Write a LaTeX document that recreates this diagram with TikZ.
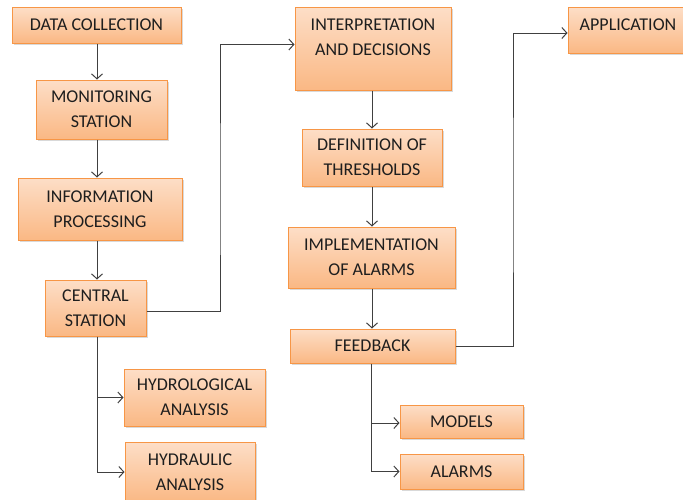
\documentclass[tikz,border=0pt]{standalone}
\usepackage{fontspec}
\setmainfont{Carlito}
\usetikzlibrary{arrows.meta,shadows}
\definecolor{boxtop}{RGB}{253,222,199}
\definecolor{boxbot}{RGB}{250,184,132}
\definecolor{boxline}{RGB}{247,150,70}
\definecolor{txtcol}{RGB}{30,30,30}
\definecolor{linecol}{RGB}{64,64,64}
\tikzset{
  box/.style={draw=boxline, line width=1pt, top color=boxtop, bottom color=boxbot,
    drop shadow={shadow xshift=1.5pt, shadow yshift=-2pt, opacity=0.3},
    align=center, font=\fontsize{18}{25}\selectfont, text=txtcol, inner sep=0pt},
  conn/.style={draw=linecol, line width=1pt, -{Straight Barb[length=5pt,width=11pt,line width=1pt]}},
  boxtext/.style={align=center, font=\fontsize{18}{25}\selectfont, text=txtcol, inner sep=0pt}
}
\begin{document}
\begin{tikzpicture}[x=1pt,y=-1pt]
\useasboundingbox (0,0) rectangle (683,499);
% left column
\node[box, minimum width=169, minimum height=36] (dc) at (96.5,25) {DATA COLLECTION};
\node[box, minimum width=131, minimum height=59] (ms) at (101.5,109.5) {MONITORING\\STATION};
\node[box, minimum width=164, minimum height=62] (ip) at (100,209) {INFORMATION\\PROCESSING};
\node[box, minimum width=101, minimum height=56] (cs) at (95.5,308) {CENTRAL\\STATION};
\node[box, minimum width=141, minimum height=57] (hydrol) at (194.5,397.5) {HYDROLOGICAL\\ANALYSIS};
\node[box, minimum width=130, minimum height=60] (hydraul) at (190,472) {HYDRAULIC\\ANALYSIS};
% middle column
\node[box, minimum width=156, minimum height=83,
  label={[boxtext, yshift=11pt]center:INTERPRETATION\\AND DECISIONS}] (interp) at (373,48.5) {};
\node[box, minimum width=140, minimum height=57] (def) at (372,157.5) {DEFINITION OF\\THRESHOLDS};
\node[box, minimum width=167, minimum height=61] (impl) at (371.5,257.5) {IMPLEMENTATION\\OF ALARMS};
\node[box, minimum width=165, minimum height=34] (feed) at (372.5,346) {FEEDBACK};
\node[box, minimum width=123, minimum height=33] (models) at (461.5,421.5) {MODELS};
\node[box, minimum width=123, minimum height=35] (alarms) at (461.5,471.5) {ALARMS};
% right
\node[box, minimum width=120, minimum height=46,
  label={[boxtext, yshift=5pt]center:APPLICATION}] (app) at (628,30) {};
% connectors
\draw[conn] (dc.south -| 97,0) -- (ms.north -| 97,0);
\draw[conn] (ms.south -| 97,0) -- (ip.north -| 97,0);
\draw[conn] (ip.south -| 97,0) -- (cs.north -| 97,0);
\draw[conn] ([yshift=-3pt]cs.east) -| (220,200) |- ([yshift=4pt]interp.west);
\draw[conn] (cs.south -| 97,0) |- (hydrol.west);
\draw[conn] (cs.south -| 97,0) |- (hydraul.west);
\draw[conn] (interp.south -| 372,0) -- (def.north -| 372,0);
\draw[conn] (def.south -| 372,0) -- (impl.north -| 372,0);
\draw[conn] (impl.south -| 372,0) -- (feed.north -| 372,0);
\draw[conn] (feed.east) -| (513,200) |- ([yshift=-3pt]app.west);
\draw[conn] (feed.south -| 371,0) |- ([yshift=-1.5pt]models.west);
\draw[conn] (feed.south -| 371,0) |- (alarms.west);
\end{tikzpicture}
\end{document}
